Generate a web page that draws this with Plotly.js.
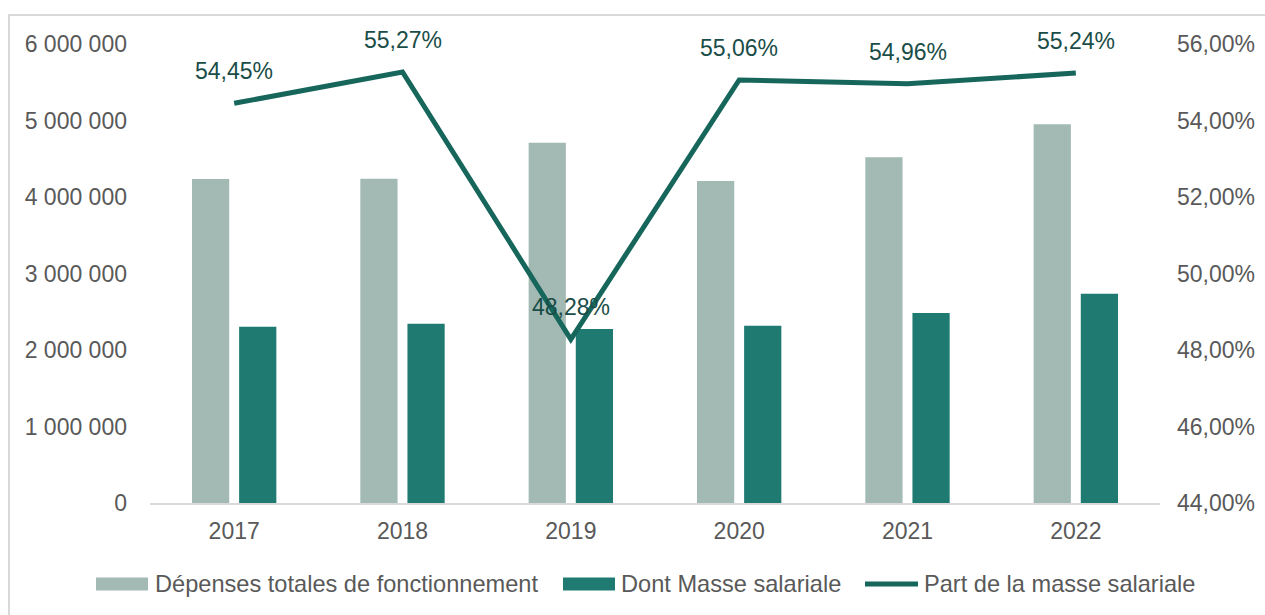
<!DOCTYPE html>
<html>
<head>
<meta charset="utf-8">
<script src="https://cdn.plot.ly/plotly-3.0.1.min.js"></script>
<style>
  html, body { margin: 0; padding: 0; background: #fff; }
  #chart { position: absolute; left: 0; top: 0; width: 1265px; height: 615px; }
  #frame { position: absolute; left: 8px; top: 14px; width: 1257px; height: 601px;
           border-top: 2px solid #d9d9d9; border-left: 2px solid #d9d9d9; pointer-events: none; box-sizing: border-box; }
</style>
</head>
<body>
<div id="chart"></div>
<div id="frame"></div>
<script>
const years = ['2017', '2018', '2019', '2020', '2021', '2022'];
const depensesTotales = [4235000, 4240000, 4710000, 4210000, 4520000, 4950000];
const masseSalariale = [2305000, 2343000, 2274000, 2318000, 2484000, 2734000];
const partMasse = [0.5445, 0.5527, 0.4828, 0.5506, 0.5496, 0.5524];
const seriesNames = ['Dépenses totales de fonctionnement', 'Dont Masse salariale', 'Part de la masse salariale'];

const fmtPct = v => (v * 100).toFixed(2).replace('.', ',') + '%';

const font = '"Liberation Sans", Arial, sans-serif';
const greyCol = '#a2b9b4';
const tealCol = '#1f7b72';
const lineCol = '#17665c';
const textCol = '#595959';

const W = 1265, H = 615;
const M = { l: 150, r: 105, t: 44, b: 112 };
const pw = W - M.l - M.r, ph = H - M.t - M.b;
const px = x => (x - M.l) / pw;          // pixel -> paper x
const py = y => (H - M.b - y) / ph;      // pixel -> paper y

const traces = [
  { type: 'bar', name: seriesNames[0], x: years, y: depensesTotales, marker: { color: greyCol } },
  { type: 'bar', name: seriesNames[1], x: years, y: masseSalariale, marker: { color: tealCol } },
  { type: 'scatter', mode: 'lines', name: seriesNames[2], x: years, y: partMasse, yaxis: 'y2',
    line: { color: lineCol, width: 5 } }
];

const annotations = years.map((yr, i) => ({
  x: i, y: partMasse[i], xref: 'x', yref: 'y2',
  text: fmtPct(partMasse[i]), showarrow: false,
  yshift: 32, yanchor: 'middle', xanchor: 'center',
  font: { family: font, size: 23, color: '#1a4d47' }
}));

// custom legend (layout positions)
const legendItems = [
  { kind: 'rect', color: greyCol, x0: 96, x1: 148, tx: 153 },
  { kind: 'rect', color: tealCol, x0: 563, x1: 615, tx: 619 },
  { kind: 'line', color: lineCol, x0: 865, x1: 918, tx: 922 }
];
const legY = 584;
const shapes = [];
legendItems.forEach((it, k) => {
  if (it.kind === 'rect') {
    shapes.push({ type: 'rect', xref: 'paper', yref: 'paper',
      x0: px(it.x0), x1: px(it.x1), y0: py(legY + 6.5), y1: py(legY - 6.5),
      fillcolor: it.color, line: { width: 0 } });
  } else {
    shapes.push({ type: 'line', xref: 'paper', yref: 'paper',
      x0: px(it.x0), x1: px(it.x1), y0: py(legY), y1: py(legY),
      line: { color: it.color, width: 5 } });
  }
  annotations.push({ xref: 'paper', yref: 'paper', x: px(it.tx), y: py(legY),
    xanchor: 'left', yanchor: 'middle', showarrow: false, text: seriesNames[k],
    font: { family: font, size: 23.6, color: textCol } });
});

const layout = {
  width: W, height: H,
  margin: M,
  paper_bgcolor: 'rgba(0,0,0,0)', plot_bgcolor: 'rgba(0,0,0,0)',
  separators: ', ',
  font: { family: font, size: 23, color: textCol },
  barmode: 'group', bargap: 0.44, bargroupgap: 0.21,
  showlegend: false,
  xaxis: {
    type: 'category', range: [-0.5, 5.5], showgrid: false, zeroline: false, automargin: false,
    showline: true, linecolor: '#d9d9d9', linewidth: 2,
    ticks: '', ticklabelstandoff: 6,
    tickfont: { family: font, size: 23, color: textCol }
  },
  yaxis: {
    range: [0, 6000000], dtick: 1000000, tickformat: ',d', automargin: false,
    showgrid: false, zeroline: false, showline: false, ticks: '',
    ticklabelstandoff: 22,
    tickfont: { family: font, size: 23, color: textCol }
  },
  yaxis2: {
    overlaying: 'y', side: 'right', range: [0.44, 0.56], dtick: 0.02, automargin: false,
    tickformat: '.2%', showgrid: false, zeroline: false, showline: false, ticks: '',
    ticklabelstandoff: 16,
    tickfont: { family: font, size: 23, color: textCol }
  },
  shapes: shapes,
  annotations: annotations
};

Plotly.newPlot('chart', traces, layout, { displayModeBar: false, staticPlot: true });
</script>
</body>
</html>
